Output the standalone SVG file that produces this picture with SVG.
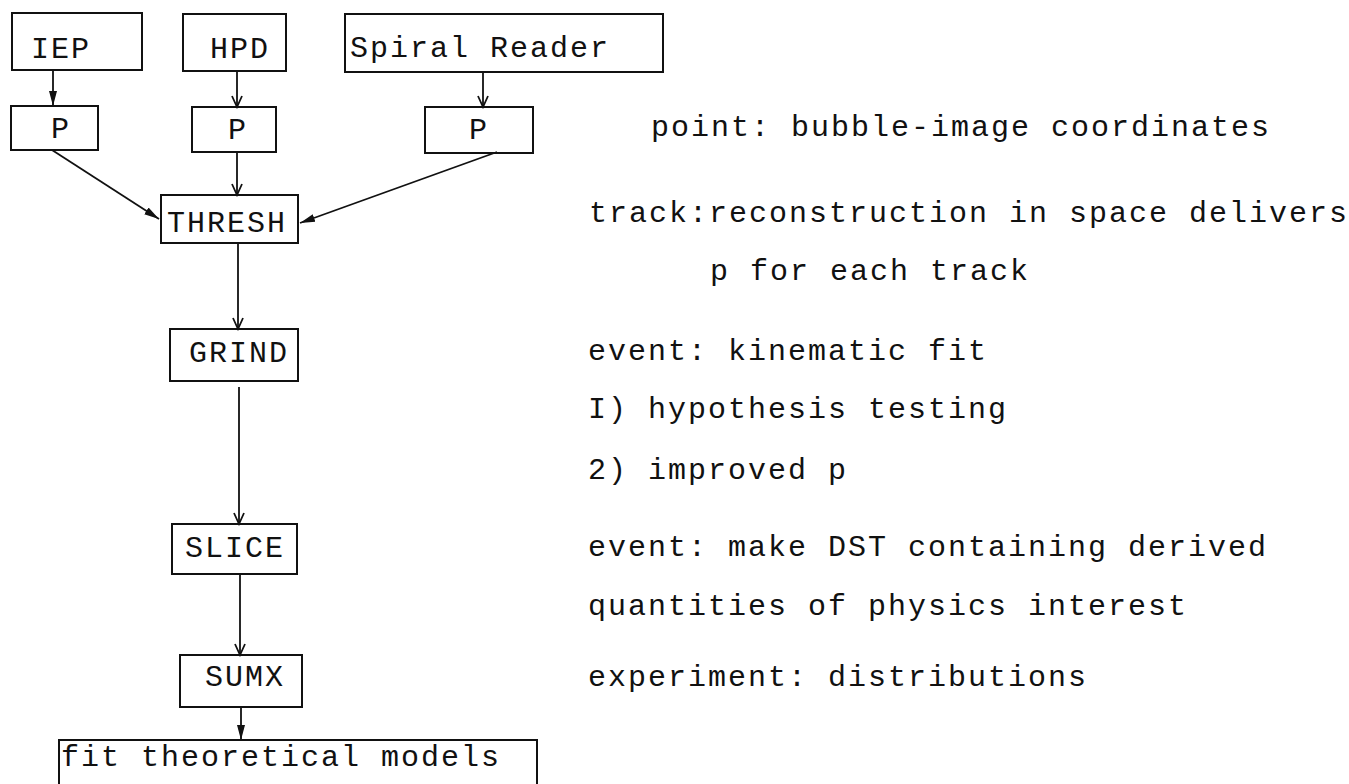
<svg xmlns="http://www.w3.org/2000/svg" width="1349" height="784" viewBox="0 0 1349 784">
<style>
  text { font-family: "Liberation Mono", "DejaVu Sans Mono", monospace; font-size: 30px; letter-spacing: 2px; fill: #111; }
  .box { fill: none; stroke: #111; stroke-width: 2; }
  .edge { fill: none; stroke: #111; stroke-width: 1.8; }
</style>
<defs>
  <marker id="vopen" markerUnits="userSpaceOnUse" markerWidth="14" markerHeight="16" viewBox="0 0 14 16" refX="12" refY="8" orient="auto">
    <path d="M1,3 L12,8 L1,13" fill="none" stroke="#111" stroke-width="1.8"/>
  </marker>
  <marker id="filled" markerUnits="userSpaceOnUse" markerWidth="16" markerHeight="12" viewBox="0 0 16 12" refX="15" refY="6" orient="auto">
    <path d="M0,2 L15,6 L0,10 Z" fill="#111"/>
  </marker>
</defs>
<rect width="1349" height="784" fill="#fff"/>

<g id="connectors">
  <line class="edge" x1="53" y1="70" x2="53" y2="106" marker-end="url(#filled)"/>
  <line class="edge" x1="237" y1="71" x2="237" y2="107" marker-end="url(#vopen)"/>
  <line class="edge" x1="483" y1="72" x2="483" y2="107" marker-end="url(#vopen)"/>
  <line class="edge" x1="237" y1="152" x2="237" y2="195" marker-end="url(#vopen)"/>
  <line class="edge" x1="52" y1="150" x2="159" y2="219" marker-end="url(#filled)"/>
  <line class="edge" x1="497" y1="152" x2="300" y2="223" marker-end="url(#filled)"/>
  <line class="edge" x1="238" y1="243" x2="238" y2="329" marker-end="url(#vopen)"/>
  <line class="edge" x1="239" y1="387" x2="239" y2="524" marker-end="url(#vopen)"/>
  <line class="edge" x1="240" y1="574" x2="240" y2="655" marker-end="url(#vopen)"/>
  <line class="edge" x1="241" y1="707" x2="241" y2="740" marker-end="url(#filled)"/>
</g>

<g id="IEP"><rect class="box" x="12" y="13" width="130" height="57"/><text x="31" y="58">IEP</text></g>
<g id="HPD"><rect class="box" x="183" y="14" width="103" height="57"/><text x="210" y="58">HPD</text></g>
<g id="SpiralReader"><rect class="box" x="345" y="14" width="318" height="58"/><text x="350" y="57">Spiral Reader</text></g>
<g id="P1"><rect class="box" x="11" y="106" width="87" height="44"/><text x="51" y="138">P</text></g>
<g id="P2"><rect class="box" x="192" y="107" width="84" height="45"/><text x="228" y="139">P</text></g>
<g id="P3"><rect class="box" x="425" y="107" width="108" height="46"/><text x="469" y="139">P</text></g>
<g id="THRESH"><rect class="box" x="161" y="195" width="137" height="48"/><text x="167" y="232">THRESH</text></g>
<g id="GRIND"><rect class="box" x="170" y="329" width="128" height="52"/><text x="189" y="362">GRIND</text></g>
<g id="SLICE"><rect class="box" x="172" y="524" width="125" height="50"/><text x="185" y="557">SLICE</text></g>
<g id="SUMX"><rect class="box" x="180" y="655" width="122" height="52"/><text x="205" y="686">SUMX</text></g>
<g id="fit"><path class="box" d="M59,786 V740 H537 V786"/><text x="61" y="766">fit theoretical models</text></g>

<g id="notes">
  <text x="651" y="136">point: bubble-image coordinates</text>
  <text x="589" y="222">track:reconstruction in space delivers</text>
  <text x="710" y="280">p for each track</text>
  <text x="588" y="360">event: kinematic fit</text>
  <text x="588" y="418">I) hypothesis testing</text>
  <text x="588" y="479">2) improved p</text>
  <text x="588" y="556">event: make DST containing derived</text>
  <text x="588" y="615">quantities of physics interest</text>
  <text x="588" y="686">experiment: distributions</text>
</g>
</svg>
